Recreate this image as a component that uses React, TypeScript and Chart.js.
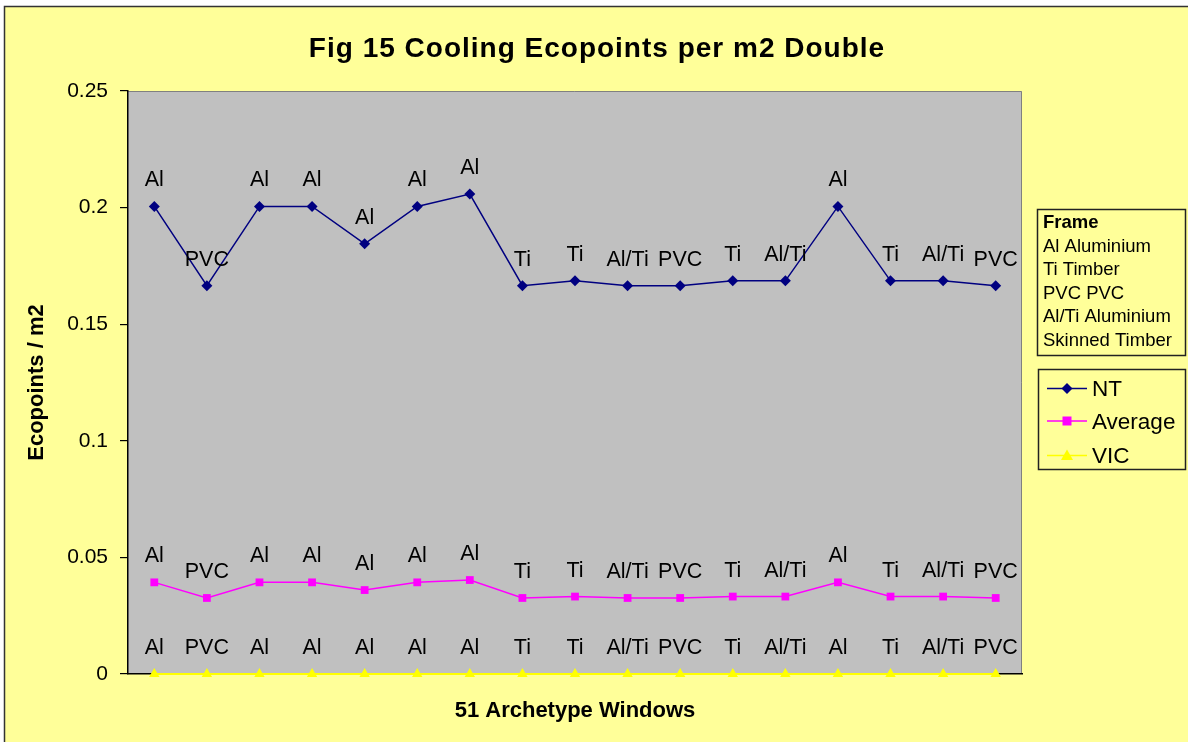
import React, { useEffect, useRef } from 'react';
import { Chart, registerables } from 'chart.js';

Chart.register(...registerables);

const chartTitle = 'Fig 15 Cooling Ecopoints per m2 Double';
const xAxisTitle = '51 Archetype Windows';
const yAxisTitle = 'Ecopoints / m2';

const categories = ['1', '2', '3', '4', '5', '6', '7', '8', '9', '10', '11', '12', '13', '14', '15', '16', '17'];
const frameLabels = ['Al', 'PVC', 'Al', 'Al', 'Al', 'Al', 'Al', 'Ti', 'Ti', 'Al/Ti', 'PVC', 'Ti', 'Al/Ti', 'Al', 'Ti', 'Al/Ti', 'PVC'];

const ntValues = [0.2005, 0.1665, 0.2005, 0.2005, 0.1845, 0.2005, 0.2058, 0.1665, 0.1686, 0.1665, 0.1665, 0.1686, 0.1686, 0.2005, 0.1686, 0.1686, 0.1665];
const averageValues = [0.0393, 0.0326, 0.0393, 0.0393, 0.036, 0.0393, 0.0403, 0.0326, 0.0332, 0.0326, 0.0326, 0.0332, 0.0332, 0.0393, 0.0332, 0.0332, 0.0326];
const vicValues = [0, 0, 0, 0, 0, 0, 0, 0, 0, 0, 0, 0, 0, 0, 0, 0, 0];

const yTickValues = [0, 0.05, 0.1, 0.15, 0.2, 0.25];
const yTickLabels = ['0', '0.05', '0.1', '0.15', '0.2', '0.25'];

const frameLegendTitle = 'Frame';
const frameLegendLines = ['Al Aluminium', 'Ti Timber', 'PVC PVC', 'Al/Ti Aluminium', 'Skinned Timber'];

const seriesNames = ['NT', 'Average', 'VIC'];
const seriesColors = ['#000080', '#FF00FF', '#FFFF00'];
const seriesMarkers = ['rectRot', 'rect', 'triangle'];

const FONT = '"Liberation Sans", Arial, Helvetica, sans-serif';

function drawMarker(ctx: CanvasRenderingContext2D, style: string, x: number, y: number, color: string) {
  ctx.save();
  ctx.fillStyle = color;
  ctx.beginPath();
  if (style === 'rectRot') {
    const r = 5.5;
    ctx.moveTo(x, y - r);
    ctx.lineTo(x + r, y);
    ctx.lineTo(x, y + r);
    ctx.lineTo(x - r, y);
    ctx.closePath();
  } else if (style === 'rect') {
    ctx.rect(x - 4.5, y - 4.5, 9, 9);
  } else {
    ctx.moveTo(x, y - 6);
    ctx.lineTo(x + 6, y + 4.5);
    ctx.lineTo(x - 6, y + 4.5);
    ctx.closePath();
  }
  ctx.fill();
  ctx.restore();
}

const backgroundPlugin = {
  id: 'excelBackground',
  beforeDraw(chart: any) {
    const { ctx, chartArea: a, width, height } = chart;
    ctx.save();
    ctx.fillStyle = '#FFFFFF';
    ctx.fillRect(0, 0, width, height);
    ctx.fillStyle = '#FFFF99';
    ctx.fillRect(4, 6, width, height);
    ctx.strokeStyle = '#333333';
    ctx.lineWidth = 1.5;
    ctx.beginPath();
    ctx.moveTo(4.5, height + 5);
    ctx.lineTo(4.5, 6.5);
    ctx.lineTo(width + 5, 6.5);
    ctx.stroke();
    ctx.fillStyle = '#C0C0C0';
    ctx.fillRect(a.left, a.top, a.right - a.left, a.bottom - a.top);
    ctx.strokeStyle = '#808080';
    ctx.lineWidth = 1;
    ctx.beginPath();
    ctx.moveTo(a.left, a.top + 0.5);
    ctx.lineTo(a.right - 0.5, a.top + 0.5);
    ctx.lineTo(a.right - 0.5, a.bottom);
    ctx.stroke();
    ctx.fillStyle = '#000000';
    ctx.font = 'bold 28px ' + FONT;
    (ctx as any).letterSpacing = '1px';
    ctx.textAlign = 'center';
    ctx.textBaseline = 'alphabetic';
    ctx.fillText(chartTitle, 597, 57);
    ctx.restore();
  },
};

const labelsPlugin = {
  id: 'pointLabels',
  afterDatasetsDraw(chart: any) {
    const { ctx } = chart;
    ctx.save();
    ctx.fillStyle = '#000000';
    ctx.font = '21.5px ' + FONT;
    ctx.textAlign = 'center';
    ctx.textBaseline = 'alphabetic';
    chart.data.datasets.forEach((_ds: any, i: number) => {
      const meta = chart.getDatasetMeta(i);
      meta.data.forEach((pt: any, j: number) => {
        ctx.fillText(frameLabels[j], pt.x, pt.y - 20);
      });
    });
    ctx.restore();
  },
};

const legendPlugin = {
  id: 'customLegends',
  afterDraw(chart: any) {
    const { ctx } = chart;
    ctx.save();
    ctx.strokeStyle = '#222222';
    ctx.lineWidth = 1.5;
    ctx.strokeRect(1037.5, 209.5, 148, 146);
    ctx.fillStyle = '#000000';
    ctx.textAlign = 'left';
    ctx.textBaseline = 'alphabetic';
    ctx.font = 'bold 18.5px ' + FONT;
    ctx.fillText(frameLegendTitle, 1043, 228);
    ctx.font = '18.5px ' + FONT;
    frameLegendLines.forEach((line, i) => {
      ctx.fillText(line, 1043, 251.5 + i * 23.5);
    });
    ctx.strokeRect(1038.5, 369.5, 147, 100);
    ctx.font = '22.5px ' + FONT;
    const ys = [388.5, 421, 455.5];
    seriesNames.forEach((name, i) => {
      const y = ys[i];
      ctx.strokeStyle = seriesColors[i];
      ctx.lineWidth = 1.5;
      ctx.beginPath();
      ctx.moveTo(1047, y);
      ctx.lineTo(1087, y);
      ctx.stroke();
      drawMarker(ctx, seriesMarkers[i], 1067, y, seriesColors[i]);
      ctx.fillStyle = '#000000';
      ctx.fillText(name, 1092, y + 7.5);
    });
    ctx.restore();
  },
};

export default function App() {
  const canvasRef = useRef<HTMLCanvasElement | null>(null);

  useEffect(() => {
    if (!canvasRef.current) return;
    const makeDataset = (i: number, data: number[], width: number) => ({
      label: seriesNames[i],
      data,
      borderColor: seriesColors[i],
      backgroundColor: seriesColors[i],
      pointBackgroundColor: seriesColors[i],
      pointBorderColor: seriesColors[i],
      pointBorderWidth: 0,
      pointStyle: seriesMarkers[i],
      pointRadius: i === 2 ? 6 : 5.5,
      borderWidth: width,
      tension: 0,
      fill: false,
      clip: false as any,
    });
    const chart = new Chart(canvasRef.current, {
      type: 'line',
      data: {
        labels: categories,
        datasets: [
          makeDataset(0, ntValues, 1.5),
          makeDataset(1, averageValues, 1.5),
          makeDataset(2, vicValues, 2),
        ],
      },
      options: {
        animation: false,
        responsive: false,
        devicePixelRatio: 1,
        layout: { padding: { left: 24, top: 91, right: 166, bottom: 0 } },
        plugins: {
          legend: { display: false },
          title: { display: false },
          tooltip: { enabled: false },
        },
        scales: {
          x: {
            type: 'category',
            offset: true,
            grid: { display: false },
            border: { display: true, color: '#000000', width: 1.5 },
            ticks: { display: false },
            title: {
              display: true,
              text: xAxisTitle,
              color: '#000000',
              font: { family: FONT, size: 22, weight: 'bold' },
              padding: { top: 0, bottom: 18 },
            },
            afterFit: (scale: any) => {
              scale.height = 68;
            },
          },
          y: {
            type: 'linear',
            min: 0,
            max: 0.25,
            grid: {
              display: true,
              drawOnChartArea: false,
              drawTicks: true,
              tickLength: 8,
              color: '#000000',
              tickColor: '#000000',
              lineWidth: 1.2,
            },
            border: { display: true, color: '#000000', width: 1.5 },
            ticks: {
              color: '#000000',
              font: { family: FONT, size: 21 },
              padding: 12,
              callback: (value: any) => {
                const idx = yTickValues.findIndex((v) => Math.abs(v - Number(value)) < 1e-9);
                return idx >= 0 ? yTickLabels[idx] : '';
              },
            },
            afterBuildTicks: (scale: any) => {
              scale.ticks = yTickValues.map((v) => ({ value: v }));
            },
            title: {
              display: true,
              text: yAxisTitle,
              color: '#000000',
              font: { family: FONT, size: 22, weight: 'bold' },
              padding: { top: 0, bottom: 0 },
            },
            afterFit: (scale: any) => {
              scale.width = 104;
            },
          },
        },
      } as any,
      plugins: [backgroundPlugin, labelsPlugin, legendPlugin],
    });
    return () => chart.destroy();
  }, []);

  return (
    <div style={{ position: 'fixed', left: 0, top: 0, width: 1188, height: 742 }}>
      <canvas ref={canvasRef} width={1188} height={742} style={{ display: 'block', width: 1188, height: 742 }} />
    </div>
  );
}
